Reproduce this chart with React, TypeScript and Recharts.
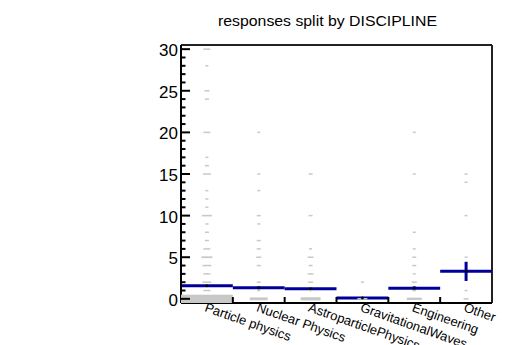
import React from 'react';
import { ScatterChart, Scatter, XAxis, YAxis, ErrorBar, ReferenceLine } from 'recharts';

// ---- data ----
const categories = [
  'Particle physics',
  'Nuclear Physics',
  'AstroparticlePhysics',
  'GravitationalWaves',
  'Engineering',
  'Other',
];
const meanValues = [1.56, 1.32, 1.2, 0.1, 1.28, 3.3];
const meanErrors = [0.08, 0.16, 0.1, 0.06, 0.22, 1.15];

// [response value, count] per discipline
const particleCounts: [number, number][] = [
  [0, 52], [1, 7], [2, 9], [3, 7], [4, 9], [5, 11], [6, 7], [7, 4], [8, 4], [9, 3],
  [10, 10], [11, 3], [12, 3], [13, 3], [15, 8], [16, 4], [17, 3], [20, 7], [24, 4],
  [25, 5], [28, 3], [30, 7],
];
const nuclearCounts: [number, number][] = [
  [0, 18], [1, 3], [2, 4], [4, 4], [5, 5], [6, 4], [7, 4], [9, 3], [10, 4], [13, 3], [15, 3], [20, 3],
];
const astroCounts: [number, number][] = [
  [0, 20], [1, 3], [2, 5], [3, 6], [4, 4], [5, 6], [6, 3], [10, 4], [15, 4],
];
const gravCounts: [number, number][] = [[0, 10], [2, 3]];
const engineeringCounts: [number, number][] = [
  [0, 15], [1, 4], [2, 5], [3, 3], [4, 4], [5, 4], [6, 3], [8, 3], [15, 3], [20, 3],
];
const otherCounts: [number, number][] = [
  [0, 5], [1, 3], [5, 3], [10, 3], [14, 3], [15, 3],
];

const yTickValues = [0, 5, 10, 15, 20, 25, 30];
const yMinorStep = 1;

// ---- layout ----
const CHART_W = 499;
const CHART_H = 337;
const MARGIN = { top: 37, right: 15, bottom: 2, left: 133 };
const Y_AXIS_W = 40;
const X_AXIS_H = 40;
const X_DOMAIN: [number, number] = [0, 6];
const Y_DOMAIN: [number, number] = [-0.5, 30.5];
const PLOT_W = CHART_W - MARGIN.left - MARGIN.right - Y_AXIS_W;
const PLOT_H = CHART_H - MARGIN.top - MARGIN.bottom - X_AXIS_H;
const BIN_PX = PLOT_W / (X_DOMAIN[1] - X_DOMAIN[0]);
const UNIT_PX = PLOT_H / (Y_DOMAIN[1] - Y_DOMAIN[0]);

const BLUE = '#000099';
const GRAY = '#c8c8c8';
const FONT = '"Liberation Sans", Arial, Helvetica, sans-serif';

const countTables = [particleCounts, nuclearCounts, astroCounts, gravCounts, engineeringCounts, otherCounts];
const MAX_COUNT = Math.max(...countTables.flat().map((d) => d[1]));

const boxData = countTables.flatMap((tbl, i) =>
  tbl.map(([v, c]) => ({ x: i + 0.5, y: v, count: c }))
);
const meanData = categories.map((_, i) => ({
  x: i + 0.5,
  y: meanValues[i],
  err: meanErrors[i],
  xerr: 0.5,
}));

const yTicks: number[] = [];
for (let v = 0; v <= 30; v += yMinorStep) yTicks.push(v);
const xTicks: number[] = [];
for (let i = 0; i < categories.length; i++) {
  xTicks.push(i + 0.5);
  if (i + 1 < categories.length) xTicks.push(i + 1);
}

const BoxShape = (props: any) => {
  const { cx, cy, payload } = props;
  const f = payload.count / MAX_COUNT;
  const w = f * BIN_PX;
  const h = Math.max(1.5, f * UNIT_PX);
  return <rect x={cx - w / 2} y={cy - h / 2} width={w} height={h} fill={GRAY} />;
};

const DotShape = (props: any) => {
  const { cx, cy } = props;
  return <circle cx={cx} cy={cy} r={1.4} fill="#000" />;
};

const YTick = (props: any) => {
  const { x, y, payload } = props;
  const v = payload.value;
  const major = yTickValues.includes(v);
  return (
    <g>
      <line x1={x} x2={x + (major ? 9 : 4.5)} y1={y} y2={y} stroke="#000" strokeWidth={2} />
      {major && (
        <text x={x - 3} y={y + 7} textAnchor="end" fontSize={17} fontFamily={FONT} fill="#000">
          {v}
        </text>
      )}
    </g>
  );
};

const XTick = (props: any) => {
  const { x, y, payload } = props;
  const v = payload.value;
  if (Number.isInteger(v)) {
    return <line x1={x} x2={x} y1={y} y2={y - 6} stroke="#000" strokeWidth={2} />;
  }
  const label = categories[Math.floor(v)];
  const tx = x - 3;
  const ty = y + 8;
  return (
    <text
      x={tx}
      y={ty}
      transform={`rotate(19.5 ${tx} ${ty})`}
      textAnchor="start"
      fontSize={13}
      fontFamily={FONT}
      fill="#000"
    >
      {label}
    </text>
  );
};

export default function App() {
  return (
    <div style={{ position: 'relative', width: CHART_W, height: CHART_H }}>
      <ScatterChart width={CHART_W} height={CHART_H} margin={MARGIN}>
        <XAxis
          type="number"
          dataKey="x"
          domain={X_DOMAIN}
          ticks={xTicks}
          interval={0}
          height={X_AXIS_H}
          tickSize={0}
          tickMargin={0}
          tickLine={false}
          tick={<XTick />}
          axisLine={{ stroke: '#000', strokeWidth: 2 }}
          allowDataOverflow
        />
        <YAxis
          type="number"
          dataKey="y"
          domain={Y_DOMAIN}
          ticks={yTicks}
          interval={0}
          width={Y_AXIS_W}
          tickSize={0}
          tickMargin={0}
          tickLine={false}
          tick={<YTick />}
          axisLine={{ stroke: '#000', strokeWidth: 2 }}
          allowDataOverflow
        />
        <ReferenceLine y={Y_DOMAIN[1]} stroke="#222" strokeWidth={2} />
        <ReferenceLine x={X_DOMAIN[1]} stroke="#222" strokeWidth={2} />
        <Scatter data={boxData} isAnimationActive={false} shape={<BoxShape />} />
        <Scatter data={meanData} isAnimationActive={false} shape={<DotShape />}>
          <ErrorBar dataKey="xerr" direction="x" width={0} strokeWidth={3} stroke={BLUE} />
          <ErrorBar dataKey="err" direction="y" width={0} strokeWidth={3} stroke={BLUE} />
        </Scatter>
      </ScatterChart>
      <svg
        width={CHART_W}
        height={30}
        style={{ position: 'absolute', left: 0, top: 0, pointerEvents: 'none' }}
      >
        <text
          x={319.5}
          y={18}
          textAnchor="middle"
          fontSize={15}
          textLength={219}
          lengthAdjust="spacingAndGlyphs"
          fontFamily={FONT}
          fill="#000"
        >
          responses split by DISCIPLINE
        </text>
      </svg>
    </div>
  );
}
